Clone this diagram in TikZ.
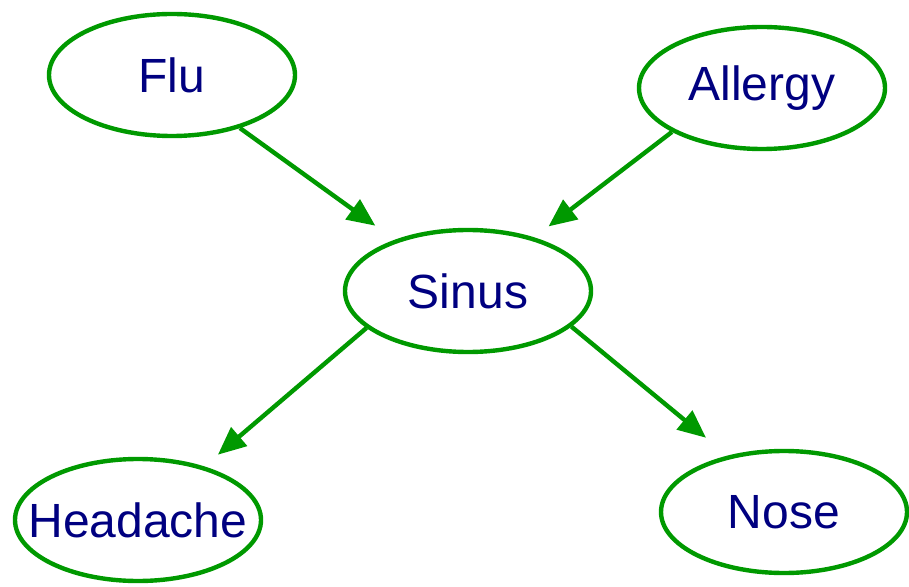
\documentclass[tikz,border=0pt]{standalone}
\usepackage{fontspec}
\setmainfont{Liberation Sans}
\usetikzlibrary{shapes.geometric}
\usetikzlibrary{arrows.meta}
\definecolor{mygreen}{RGB}{0,153,0}
\definecolor{mynavy}{RGB}{0,0,128}
\tikzstyle{var}=[ellipse,draw=mygreen,line width=2.2pt,minimum width=123pt,minimum height=61pt,inner sep=0,text=mynavy,font=\fontsize{24}{28}\selectfont]
\tikzstyle{edge}=[draw=mygreen,line width=2.2pt,-{Triangle[length=14pt,width=12pt]},mygreen]

\begin{document}
\begin{tikzpicture}[x=0.5pt, y=-0.5pt]
\useasboundingbox (0,0) rectangle (909,587);

\foreach \n/\t/\x/\y in {flu/Flu/172/75, allergy/Allergy/762/88, sinus/Sinus/468/291, headache/Headache/138/520, nose/Nose/784/512}
  \node [var] (\n) at (\x,\y) {\makebox[0pt]{\t}};

% kaaret: lähtö/kulma/kohde/kulma/lyhennys
\foreach \a/\p/\b/\q/\s in {flu/-38/sinus/145/12pt, allergy/206/sinus/39/9pt, sinus/200/headache/39/9pt, sinus/-19/nose/135/14pt}
  \draw [edge, shorten >=\s] (\a.\p) -- (\b.\q);

\end{tikzpicture}
\end{document}
